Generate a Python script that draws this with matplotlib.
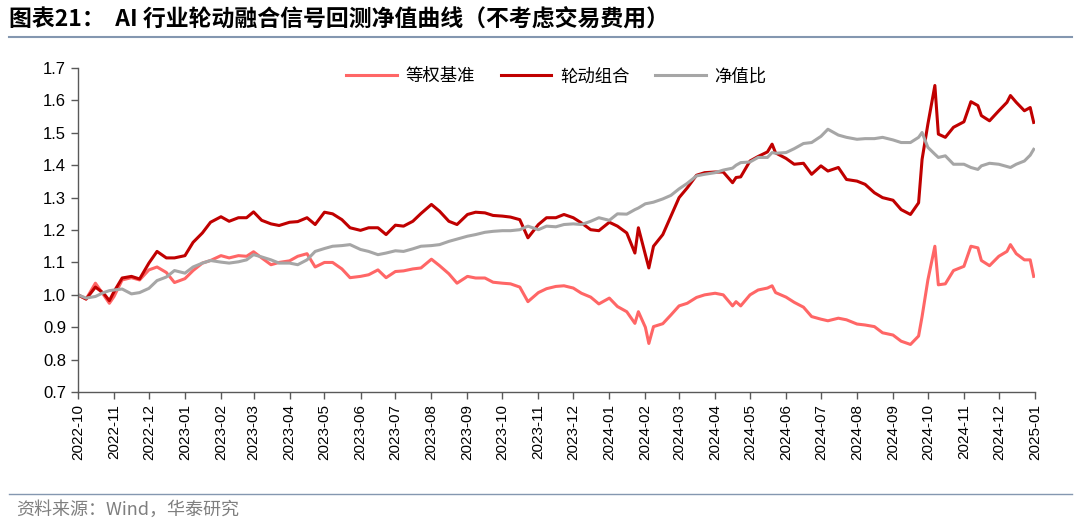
import matplotlib
matplotlib.use("Agg")
import matplotlib.pyplot as plt
import matplotlib.dates as mdates
import pandas as pd

plt.rcParams['font.family'] = ['Liberation Sans', 'Noto Sans CJK SC', 'DejaVu Sans']

dates = [
    "2022-10-01", "2022-10-08", "2022-10-16", "2022-10-23", "2022-10-28",
    "2022-11-01", "2022-11-08", "2022-11-16", "2022-11-23",
    "2022-12-01", "2022-12-08", "2022-12-16", "2022-12-23",
    "2023-01-01", "2023-01-08", "2023-01-16", "2023-01-23",
    "2023-02-01", "2023-02-08", "2023-02-16", "2023-02-23",
    "2023-03-01", "2023-03-08", "2023-03-16", "2023-03-23",
    "2023-04-01", "2023-04-08", "2023-04-16", "2023-04-23",
    "2023-05-01", "2023-05-08", "2023-05-16", "2023-05-23",
    "2023-06-01", "2023-06-08", "2023-06-16", "2023-06-23",
    "2023-07-01", "2023-07-08", "2023-07-16", "2023-07-23",
    "2023-08-01", "2023-08-08", "2023-08-16", "2023-08-23",
    "2023-09-01", "2023-09-08", "2023-09-16", "2023-09-23",
    "2023-10-01", "2023-10-08", "2023-10-16", "2023-10-23",
    "2023-11-01", "2023-11-08", "2023-11-16", "2023-11-23",
    "2023-12-01", "2023-12-08", "2023-12-16", "2023-12-23",
    "2024-01-01", "2024-01-08", "2024-01-16", "2024-01-23", "2024-01-26",
    "2024-02-01", "2024-02-04", "2024-02-08", "2024-02-16", "2024-02-23",
    "2024-03-01", "2024-03-08", "2024-03-16", "2024-03-23",
    "2024-04-01", "2024-04-08", "2024-04-16", "2024-04-19", "2024-04-23",
    "2024-05-01", "2024-05-08", "2024-05-16", "2024-05-20", "2024-05-23",
    "2024-06-01", "2024-06-08", "2024-06-16", "2024-06-23",
    "2024-07-01", "2024-07-07", "2024-07-16", "2024-07-23",
    "2024-08-01", "2024-08-08", "2024-08-16", "2024-08-23",
    "2024-09-01", "2024-09-08", "2024-09-16", "2024-09-23", "2024-09-26",
    "2024-10-01", "2024-10-07", "2024-10-10", "2024-10-16", "2024-10-23",
    "2024-11-01", "2024-11-07", "2024-11-13", "2024-11-16", "2024-11-23",
    "2024-12-01", "2024-12-08", "2024-12-11", "2024-12-16", "2024-12-23",
    "2024-12-28", "2024-12-31",
]

# 等权基准
benchmark = [
    1.000, 0.987, 1.036, 1.000, 0.974,
    0.995, 1.046, 1.053, 1.046,
    1.077, 1.086, 1.069, 1.038,
    1.050, 1.075, 1.098, 1.106,
    1.121, 1.114, 1.121, 1.119,
    1.133, 1.114, 1.093, 1.100,
    1.105, 1.119, 1.127, 1.086,
    1.100, 1.100, 1.080, 1.053,
    1.057, 1.062, 1.077, 1.053,
    1.072, 1.074, 1.080, 1.083,
    1.110, 1.090, 1.065, 1.036,
    1.057, 1.052, 1.052, 1.039,
    1.036, 1.034, 1.024, 0.979,
    1.007, 1.019, 1.026, 1.028,
    1.021, 1.005, 0.993, 0.972,
    0.990, 0.964, 0.948, 0.912, 0.948,
    0.900, 0.850, 0.902, 0.911, 0.938,
    0.966, 0.974, 0.992, 1.000,
    1.005, 1.000, 0.966, 0.979, 0.966,
    1.000, 1.015, 1.021, 1.028, 1.007,
    0.993, 0.977, 0.962, 0.933,
    0.925, 0.920, 0.928, 0.923,
    0.910, 0.907, 0.902, 0.883,
    0.876, 0.857, 0.847, 0.873, 0.933,
    1.046, 1.150, 1.031, 1.034, 1.075,
    1.088, 1.150, 1.145, 1.106, 1.090,
    1.119, 1.134, 1.155, 1.127, 1.108,
    1.108, 1.057,
]

# 轮动组合
rotation = [
    1.000, 0.987, 1.024, 1.005, 0.982,
    1.010, 1.052, 1.057, 1.049,
    1.098, 1.134, 1.114, 1.114,
    1.121, 1.162, 1.191, 1.224,
    1.241, 1.227, 1.238, 1.238,
    1.256, 1.230, 1.219, 1.214,
    1.224, 1.226, 1.238, 1.217,
    1.255, 1.250, 1.232, 1.207,
    1.199, 1.207, 1.207, 1.186,
    1.215, 1.212, 1.227, 1.251,
    1.279, 1.258, 1.227, 1.217,
    1.248, 1.255, 1.253, 1.245,
    1.243, 1.240, 1.232, 1.176,
    1.217, 1.238, 1.238, 1.248,
    1.238, 1.222, 1.201, 1.198,
    1.224, 1.212, 1.191, 1.129, 1.207,
    1.124, 1.083, 1.150, 1.186, 1.243,
    1.300, 1.330, 1.369, 1.377,
    1.379, 1.379, 1.346, 1.362, 1.364,
    1.413, 1.427, 1.441, 1.465, 1.438,
    1.421, 1.403, 1.406, 1.372,
    1.398, 1.382, 1.393, 1.356,
    1.351, 1.341, 1.315, 1.300,
    1.292, 1.263, 1.248, 1.284, 1.418,
    1.527, 1.646, 1.496, 1.486, 1.517,
    1.534, 1.596, 1.584, 1.553, 1.537,
    1.568, 1.594, 1.615, 1.594, 1.568,
    1.578, 1.532,
]

# 净值比
ratio = [
    1.000, 0.990, 0.995, 1.007, 1.013,
    1.015, 1.018, 1.003, 1.007,
    1.020, 1.044, 1.055, 1.075,
    1.067, 1.086, 1.098, 1.106,
    1.101, 1.098, 1.102, 1.108,
    1.124, 1.117, 1.108, 1.098,
    1.098, 1.093, 1.108, 1.134,
    1.143, 1.150, 1.152, 1.155,
    1.140, 1.134, 1.124, 1.129,
    1.136, 1.134, 1.142, 1.150,
    1.152, 1.155, 1.165, 1.172,
    1.181, 1.186, 1.193, 1.196,
    1.198, 1.198, 1.201, 1.212,
    1.201, 1.212, 1.210, 1.217,
    1.219, 1.217, 1.227, 1.238,
    1.230, 1.250, 1.249, 1.263, 1.268,
    1.281, 1.283, 1.286, 1.296, 1.307,
    1.327, 1.344, 1.367, 1.372,
    1.377, 1.385, 1.391, 1.400, 1.408,
    1.410, 1.424, 1.424, 1.439, 1.437,
    1.439, 1.451, 1.467, 1.470,
    1.489, 1.511, 1.493, 1.486,
    1.480, 1.482, 1.482, 1.486,
    1.478, 1.470, 1.470, 1.486, 1.501,
    1.455, 1.434, 1.424, 1.429, 1.403,
    1.403, 1.393, 1.387, 1.398, 1.406,
    1.403, 1.396, 1.393, 1.403, 1.413,
    1.431, 1.449,
]

x = pd.to_datetime(dates)

fig = plt.figure(figsize=(10.8, 5.27), dpi=100)
ax = fig.add_axes([0.0722, 0.256, 0.886, 0.615])

ax.plot(x, benchmark, color='#FF6666', lw=2.2, label='等权基准')
ax.plot(x, rotation, color='#C00000', lw=2.2, label='轮动组合')
ax.plot(x, ratio, color='#A6A6A6', lw=2.2, label='净值比')

ax.set_ylim(0.7, 1.7)
ax.set_yticks([0.7, 0.8, 0.9, 1.0, 1.1, 1.2, 1.3, 1.4, 1.5, 1.6, 1.7])
ax.yaxis.set_major_formatter(matplotlib.ticker.FormatStrFormatter('%.1f'))
ax.set_xlim(pd.Timestamp('2022-10-01'), pd.Timestamp('2025-01-01'))
ax.xaxis.set_major_locator(mdates.MonthLocator())
ax.xaxis.set_major_formatter(mdates.DateFormatter('%Y-%m'))
plt.setp(ax.get_xticklabels(), rotation=90)

for s in ['top', 'right']:
    ax.spines[s].set_visible(False)
for s in ['left', 'bottom']:
    ax.spines[s].set_color('#595959')
    ax.spines[s].set_linewidth(1.0)
ax.tick_params(axis='both', colors='#595959', labelcolor='black', labelsize=12, length=5, width=1.0)
ax.tick_params(axis='x', labelsize=11)

leg = ax.legend(loc='upper center', bbox_to_anchor=(0.5, 1.05), ncol=3, frameon=False,
                fontsize=12.5, handlelength=2.9, columnspacing=1.5, handletextpad=0.5)
for t in leg.get_texts():
    t.set_family(['Noto Sans CJK SC', 'DejaVu Sans'])

fig.text(0.008, 0.963, '图表21：  AI 行业轮动融合信号回测净值曲线（不考虑交易费用）',
         fontsize=16.5, fontweight='bold', va='center', ha='left',
         family=['Noto Sans CJK SC', 'DejaVu Sans'])
fig.add_artist(plt.Line2D([0.008, 0.993], [0.93, 0.93], color='#8497B0', lw=1.5))
fig.add_artist(plt.Line2D([0.008, 0.993], [0.063, 0.063], color='#8497B0', lw=1.0))
fig.text(0.015, 0.032, '资料来源：Wind，华泰研究', fontsize=13, color='#7F7F7F',
         va='center', ha='left', family=['Noto Sans CJK SC', 'DejaVu Sans'])

fig.savefig('out.png', dpi=100)
